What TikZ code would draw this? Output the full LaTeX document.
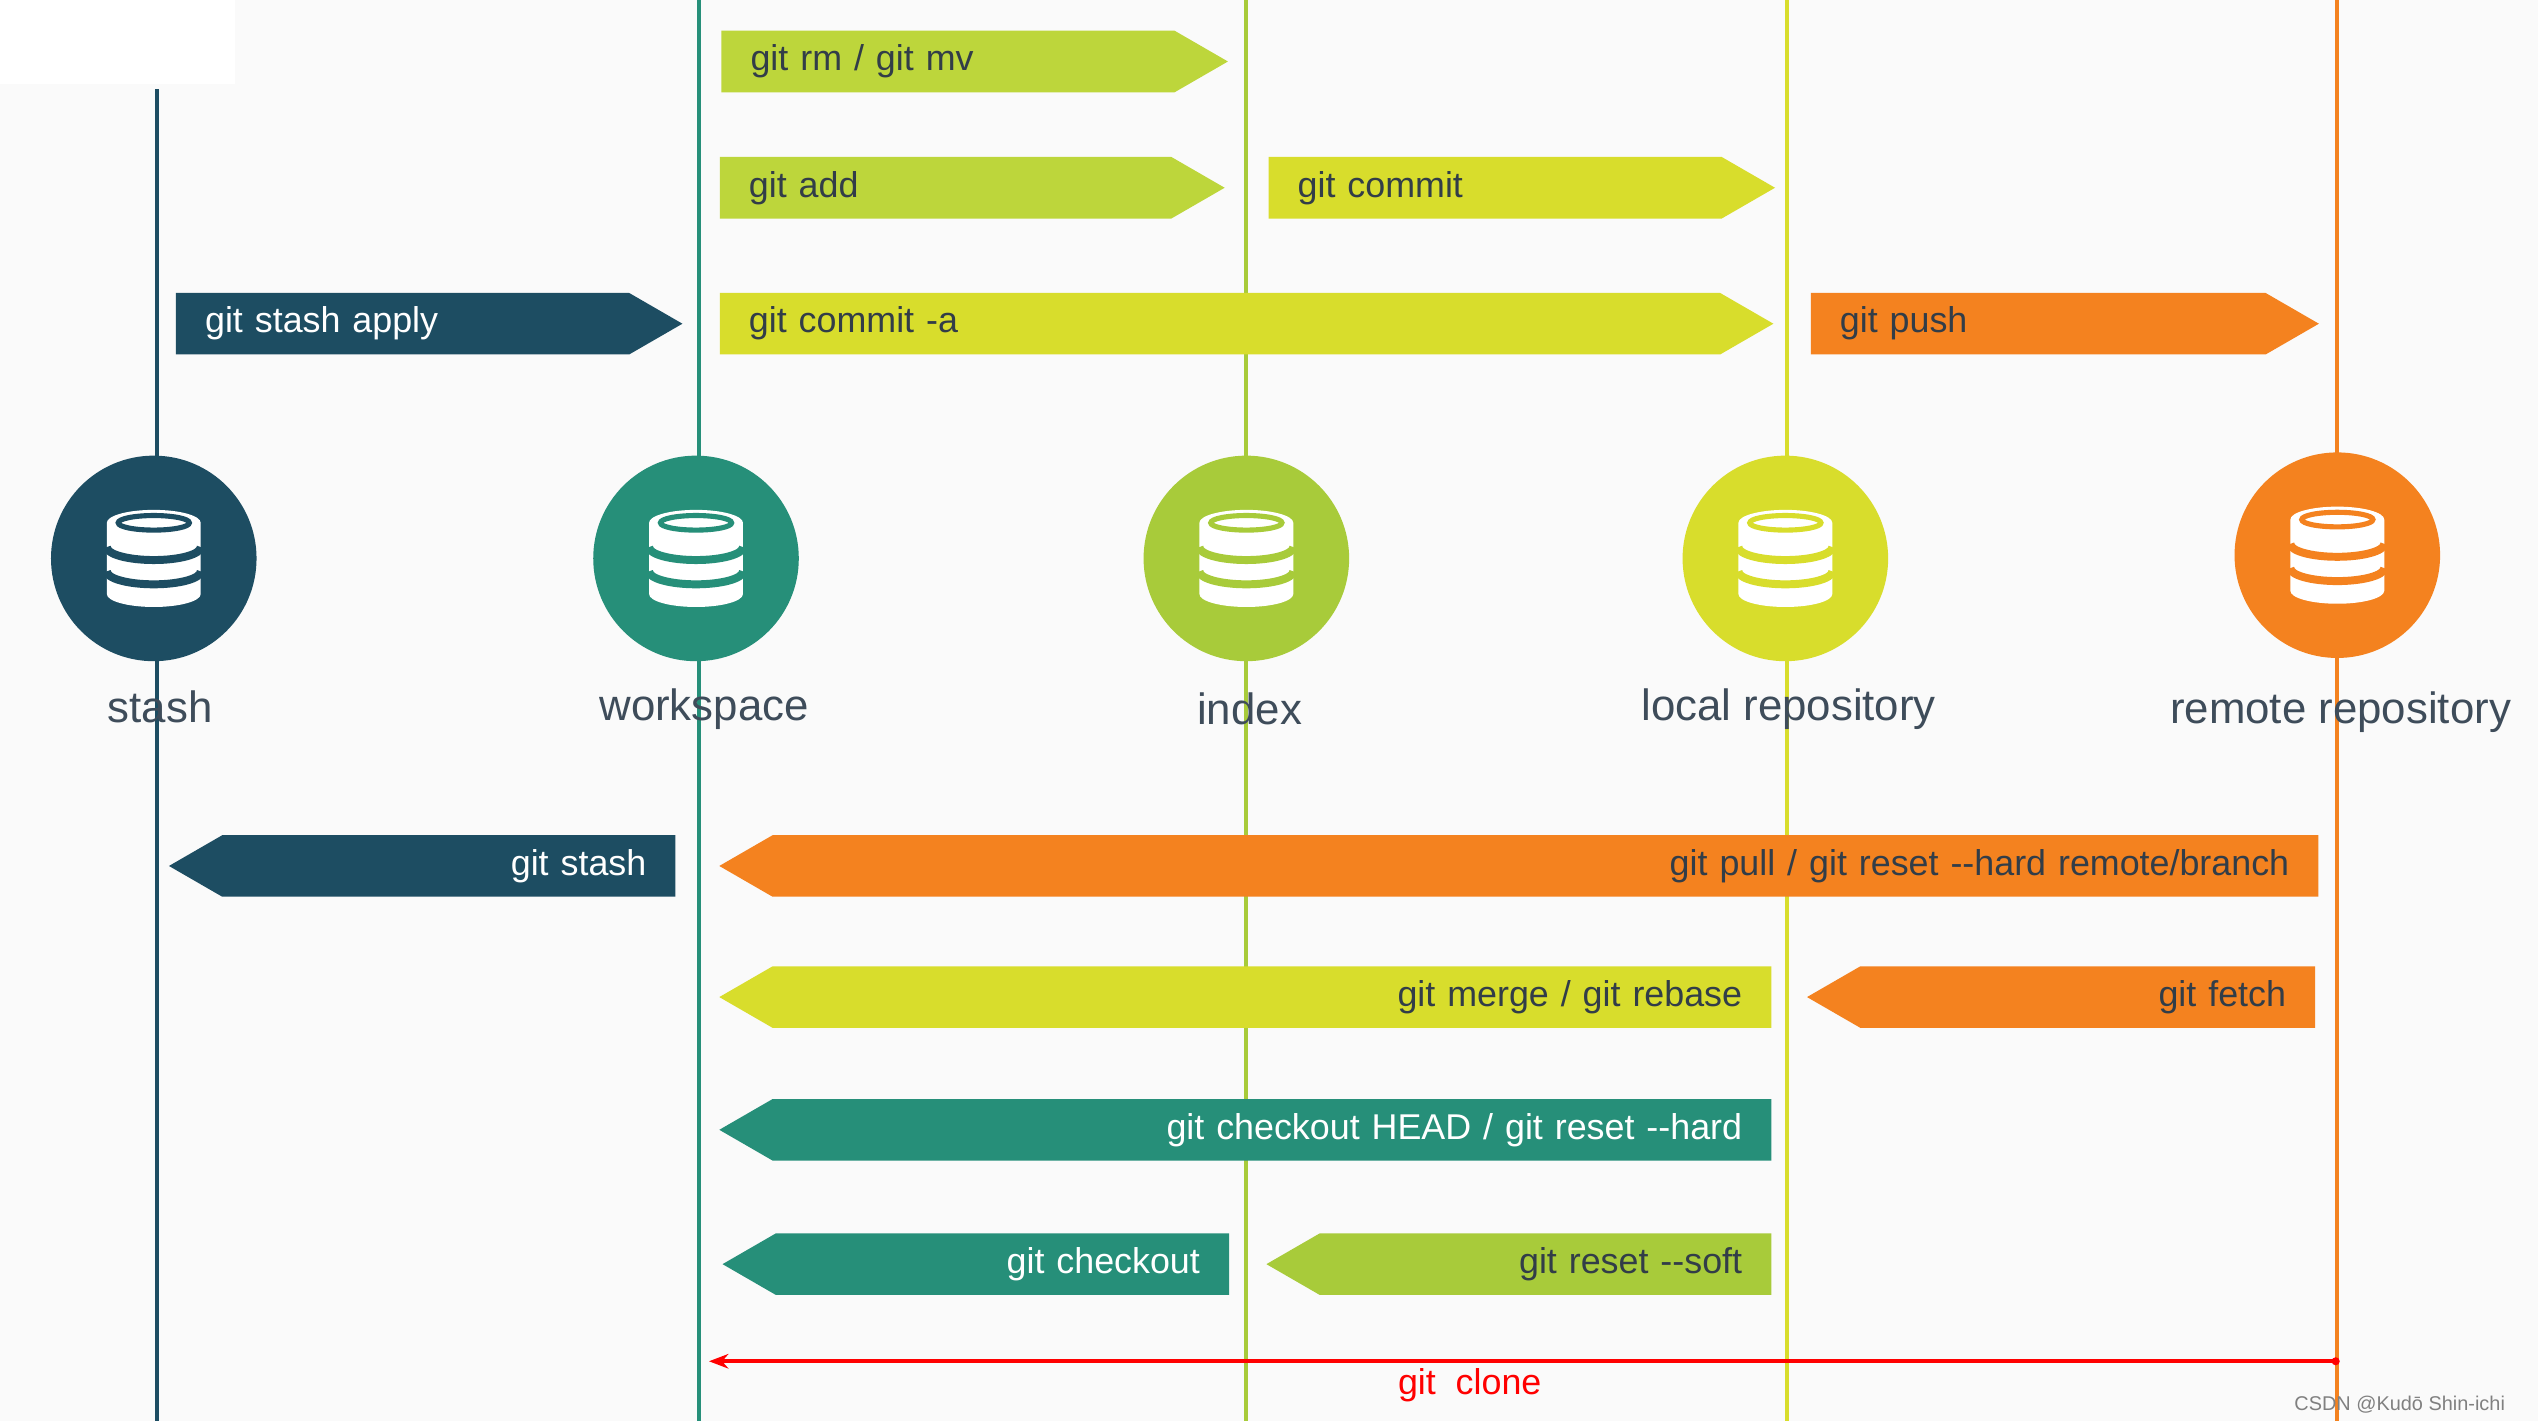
\documentclass[tikz,border=0pt]{standalone}
\usepackage{fontspec}
\setmainfont{Liberation Sans}
\usetikzlibrary{shapes.symbols, positioning, arrows.meta}

\definecolor{cstash}{HTML}{1D4D62}
\definecolor{cwork}{HTML}{268F79}
\definecolor{cindex}{HTML}{A8CB3A}
\definecolor{clocal}{HTML}{D8DD2C}
\definecolor{cremote}{HTML}{F4821F}
\definecolor{crm}{HTML}{BDD63B}
\definecolor{ctext}{HTML}{3E4C5A}

% white database icon inside a circle
\newcommand{\dbicon}[2]{%
  \begin{scope}[shift={(#1)}]
    \fill[white] (-0.29,0.22) -- (-0.29,-0.22) arc[start angle=180,end angle=360,x radius=0.29,y radius=0.08]
      -- (0.29,0.22) arc[start angle=0,end angle=180,x radius=0.29,y radius=0.08];
    \draw[#2, line width=1.4pt] (-0.29,0.07) arc[start angle=180,end angle=360,x radius=0.29,y radius=0.08];
    \draw[#2, line width=1.4pt] (-0.29,-0.08) arc[start angle=180,end angle=360,x radius=0.29,y radius=0.08];
    \draw[#2, line width=0.9pt] (0,0.22) ellipse[x radius=0.22,y radius=0.045];
  \end{scope}}

\begin{document}
\begin{tikzpicture}[
    lane/.style={line width=0.7pt},
    store/.style={circle, minimum size=1.27cm, inner sep=0pt},
    slabel/.style={text=ctext, font=\fontsize{7.7}{9}\selectfont},
    cmd/.style={signal, signal pointer angle=60, minimum height=0.38cm, inner ysep=0pt,
                inner xsep=0pt, text=white, font=\fontsize{6.3}{7}\selectfont},
    cmdr/.style={cmd, signal to=east, anchor=west, align=left},
    cmdl/.style={cmd, signal to=west, anchor=east, align=right},
]
\useasboundingbox (0,0) rectangle (15.68,-8.78);
\fill[gray!4] (0,0) rectangle (15.68,-8.78);
\fill[white] (0,0) rectangle (1.45,-0.52);

% lanes
\draw[lane, cstash] (0.97,-0.55) -- (0.97,-8.78);
\draw[lane, cwork] (4.32,0) -- (4.32,-8.78);
\draw[lane, cindex] (7.70,0) -- (7.70,-8.78);
\draw[lane, clocal] (11.04,0) -- (11.04,-8.78);
\draw[lane, cremote] (14.44,0) -- (14.44,-8.78);

% stores
\node[store, fill=cstash] (stash) at (0.95,-3.45) {};
\node[store, fill=cwork] (work) at (4.30,-3.45) {};
\node[store, fill=cindex] (index) at (7.70,-3.45) {};
\node[store, fill=clocal] (local) at (11.03,-3.45) {};
\node[store, fill=cremote] (remote) at (14.44,-3.43) {};
\dbicon{stash}{cstash}
\dbicon{work}{cwork}
\dbicon{index}{cindex}
\dbicon{local}{clocal}
\dbicon{remote}{cremote}

\node[slabel] (lstash) at (0.99,-4.37) {stash};
\node[slabel] (lwork) at (4.35,-4.38) {workspace};
\node[slabel] (lindex) at (7.72,-4.38) {index};
\node[slabel] (llocal) at (11.05,-4.38) {local repository};
\node[slabel] (lremote) at (14.46,-4.40) {remote repository};

% forward commands
\node[cmdr, fill=crm, text=ctext!80!black, text width=2.80cm] (rm) at (4.45,-0.38) {\hspace*{0.18cm}git rm / git mv};
\node[cmdr, fill=crm, text=ctext!80!black, text width=2.79cm] (add) at (4.44,-1.16) {\hspace*{0.18cm}git add};
\node[cmdr, fill=clocal, text=ctext!80!black, text width=2.80cm] (commit) at (7.83,-1.16) {\hspace*{0.18cm}git commit};
\node[cmdr, fill=cstash, text width=2.80cm] (apply) at (1.08,-2.00) {\hspace*{0.18cm}git stash apply};
\node[cmdr, fill=clocal, text=ctext!80!black, text width=6.18cm] (commita) at (4.44,-2.00) {\hspace*{0.18cm}git commit -a};
\node[cmdr, fill=cremote, text=ctext!80!black, text width=2.81cm] (push) at (11.18,-2.00) {\hspace*{0.18cm}git push};

% backward commands
\node[cmdl, fill=cstash, text width=2.80cm] (stashcmd) at (4.18,-5.35) {git stash\hspace*{0.18cm}};
\node[cmdl, fill=cremote, text=ctext!80!black, text width=9.55cm] (pull) at (14.33,-5.35) {git pull / git reset -{}-hard remote/branch\hspace*{0.18cm}};
\node[cmdl, fill=clocal, text=ctext!80!black, text width=6.17cm] (merge) at (10.95,-6.16) {git merge / git rebase\hspace*{0.18cm}};
\node[cmdl, fill=cremote, text=ctext!80!black, text width=2.81cm] (fetch) at (14.31,-6.16) {git fetch\hspace*{0.18cm}};
\node[cmdl, fill=cwork, text width=6.17cm] (head) at (10.95,-6.98) {git checkout HEAD / git reset -{}-hard\hspace*{0.18cm}};
\node[cmdl, fill=cwork, text width=2.80cm] (checkout) at (7.60,-7.81) {git checkout\hspace*{0.18cm}};
\node[cmdl, fill=cindex, text=ctext!80!black, text width=2.79cm] (soft) at (10.95,-7.81) {git reset -{}-soft\hspace*{0.18cm}};

% clone
\coordinate (cfrom) at (14.43,-8.41);
\coordinate (cto) at (4.38,-8.41);
\fill[red] (cfrom) circle (0.025);
\draw[red, line width=0.7pt, -{Stealth[length=0.12cm]}] (cfrom) -- (cto);
\node[text=red, font=\fontsize{6.3}{7}\selectfont] (clone) at (9.08,-8.56) {git\ \ clone};

\node[text=gray, font=\fontsize{3.5}{4}\selectfont, anchor=east] (mark) at (15.60,-8.68) {CSDN @Kudō Shin-ichi};
\end{tikzpicture}
\end{document}
